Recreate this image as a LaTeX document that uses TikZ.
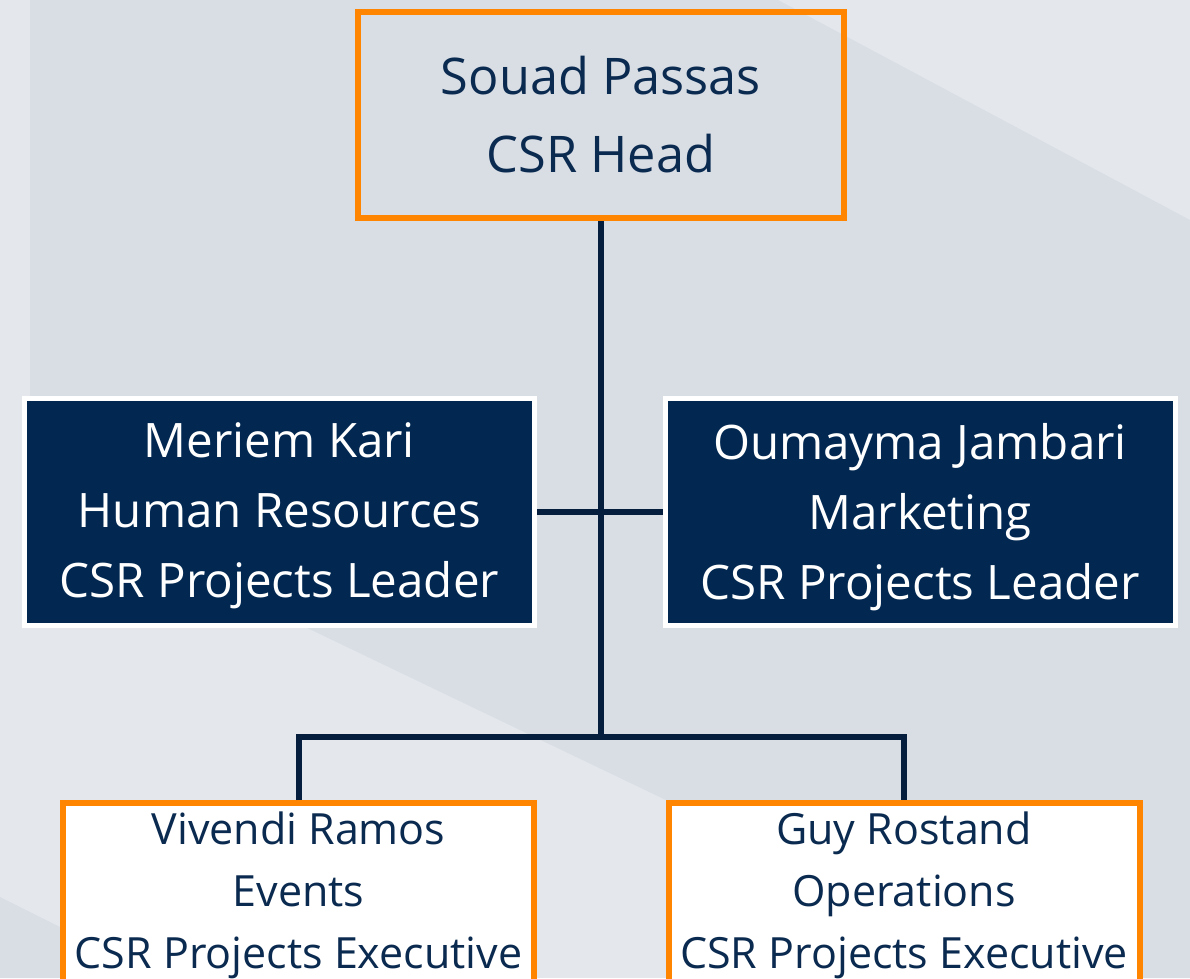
\documentclass[tikz,border=0pt]{standalone}
\usepackage{fontspec}
\setmainfont{Open Sans}
\definecolor{bglight}{HTML}{E4E8ED}
\definecolor{bgdark}{HTML}{D9DEE5}
\definecolor{boxorange}{HTML}{FF8400}
\definecolor{navyfill}{HTML}{022851}
\definecolor{txtnavy}{HTML}{0B2A50}
\definecolor{linenavy}{HTML}{061E3D}
\tikzset{
  orgbox/.style={rectangle, inner sep=0pt, align=center},
  headbox/.style={orgbox, draw=boxorange, line width=6pt, minimum width=486pt, minimum height=206pt,
    text=txtnavy, font=\fontsize{50.5}{78}\selectfont},
  leadbox/.style={orgbox, draw=white, fill=navyfill, line width=5pt, minimum width=510pt, minimum height=227pt},
  leadtext/.style={inner sep=0pt, align=center, text=white, font=\fontsize{47.5}{70}\selectfont},
  execbox/.style={orgbox, draw=boxorange, fill=white, line width=6pt, minimum width=471pt, minimum height=194pt},
  exectext/.style={inner sep=0pt, align=center, text=txtnavy, font=\fontsize{43}{62}\selectfont},
  link/.style={draw=linenavy, line width=6pt}
}
\begin{document}
\begin{tikzpicture}[x=1pt,y=-1pt]
\useasboundingbox (0,0) rectangle (1190,978);
\clip (0,0) rectangle (1190,978);
% background
\fill[bglight] (0,0) rectangle (1190,978);
\fill[bgdark] (30,0) -- (778,0) -- (1190,220) -- (1190,978) -- (1037,978) -- (30,495) -- cycle;
\fill[bgdark] (0,897) -- (162,978) -- (0,978) -- cycle;
% nodes
\node[headbox] (head) at (601,115) {Souad Passas\\CSR Head};
\node[leadbox] (hr) at (279.5,512) {};
\node[leadbox] (mk) at (920,512) {};
\node[leadtext] (hrtext) at (279.5,516) {Meriem Kari\\Human Resources\\CSR Projects Leader};
\node[leadtext] (mktext) at (920,517) {Oumayma Jambari\\Marketing\\CSR Projects Leader};
\node[execbox] (ev) at (298.5,900) {};
\node[execbox] (op) at (904,900) {};
\node[exectext] (evtext) at (298.5,895) {Vivendi Ramos\\Events\\CSR Projects Executive};
\node[exectext] (optext) at (904,895) {Guy Rostand\\Operations\\CSR Projects Executive};
\coordinate (bus) at (601,737);
% connectors
\draw[link] (head.south) -- (bus);
\draw[link] (hr.east) -- (mk.west);
\draw[link] (ev.north) |- (bus) -| (op.north);
\end{tikzpicture}
\end{document}
